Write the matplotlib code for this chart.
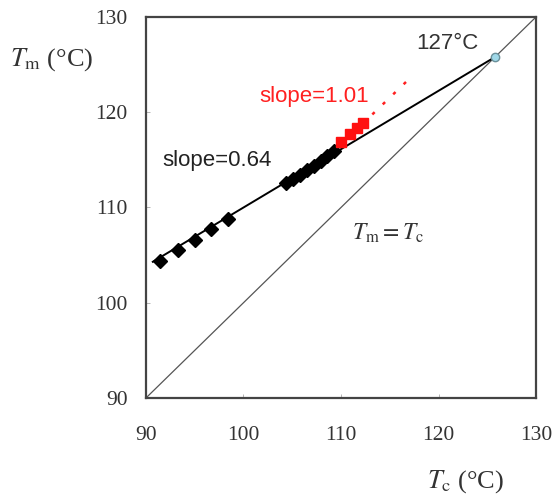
import matplotlib.pyplot as plt

plt.rcParams['mathtext.fontset'] = 'stix'

# black points (slope 0.64 branch)
tc_black = [91.4, 93.3, 95.0, 96.7, 98.4, 104.4, 105.1, 105.8, 106.5, 107.2, 107.9, 108.6, 109.3]
tm_black = [104.4, 105.5, 106.6, 107.7, 108.8, 112.6, 113.0, 113.4, 113.9, 114.4, 114.9, 115.4, 115.9]

# red points (slope 1.01 branch)
tc_red = [110.0, 110.9, 111.6, 112.3]
tm_red = [116.9, 117.7, 118.3, 118.9]

# fit lines
fit_black_x = [90.7, 125.8]
fit_black_y = [104.3, 125.8]
fit_red_x = [110.0, 117.4]
fit_red_y = [116.6, 123.9]

# equilibrium point
tm0_x = [125.8]
tm0_y = [125.8]

ticks = [90, 100, 110, 120, 130]

fig = plt.figure(figsize=(5.58, 4.95), dpi=100)
ax = fig.add_axes([0.2616, 0.196, 0.699, 0.7697])

ax.plot([90, 130], [90, 130], color='#555555', lw=0.9, zorder=1)
ax.plot(fit_black_x, fit_black_y, color='black', lw=1.4, zorder=2)
ax.plot(fit_red_x, fit_red_y, color='#ff2020', lw=1.8, linestyle=(0, (1.3, 4.5)), zorder=2)
ax.plot(tc_black, tm_black, 'D', color='black', markersize=7, zorder=3)
ax.plot(tc_red, tm_red, 's', color='#ff1010', markersize=7.5, zorder=4)
ax.plot(tm0_x, tm0_y, 'o', markerfacecolor='#9fd8e8', markeredgecolor='#6a8f99',
        markersize=6, zorder=5)

ax.set_xlim(90, 130)
ax.set_ylim(90, 130)
ax.set_xticks(ticks)
ax.set_yticks(ticks)
ax.tick_params(direction='in', length=3, width=0.6, colors='#aaaaaa',
               labelcolor='#333333', labelsize=15.5)
ax.tick_params(axis='x', pad=20)
ax.tick_params(axis='y', pad=13)
for lab in ax.get_xticklabels() + ax.get_yticklabels():
    lab.set_family('Liberation Serif')
for s in ax.spines.values():
    s.set_color('#444444')
    s.set_linewidth(1.6)

ax.text(97.3, 114.9, 'slope=0.64', fontsize=16, family='Liberation Sans',
        color='#222222', ha='center', va='center')
ax.text(107.2, 121.6, 'slope=1.01', fontsize=16, family='Liberation Sans',
        color='#ff2020', ha='center', va='center')
ax.text(120.9, 127.2, '127°C', fontsize=16, family='Liberation Sans',
        color='#333333', ha='center', va='center')
ax.text(114.8, 107.3, r'$T_{\rm m}=T_{\rm c}$', fontsize=17,
        color='#333333', ha='center', va='center')

fig.text(52 / 558, 1 - 60 / 495, r'$T_{\rm m}$ (°C)', fontsize=19,
         family='Liberation Serif', color='#333333', ha='center', va='center')
fig.text(466 / 558, 1 - 482 / 495, r'$T_{\rm c}$ (°C)', fontsize=19,
         family='Liberation Serif', color='#333333', ha='center', va='center')

fig.savefig('out.png', dpi=100)
